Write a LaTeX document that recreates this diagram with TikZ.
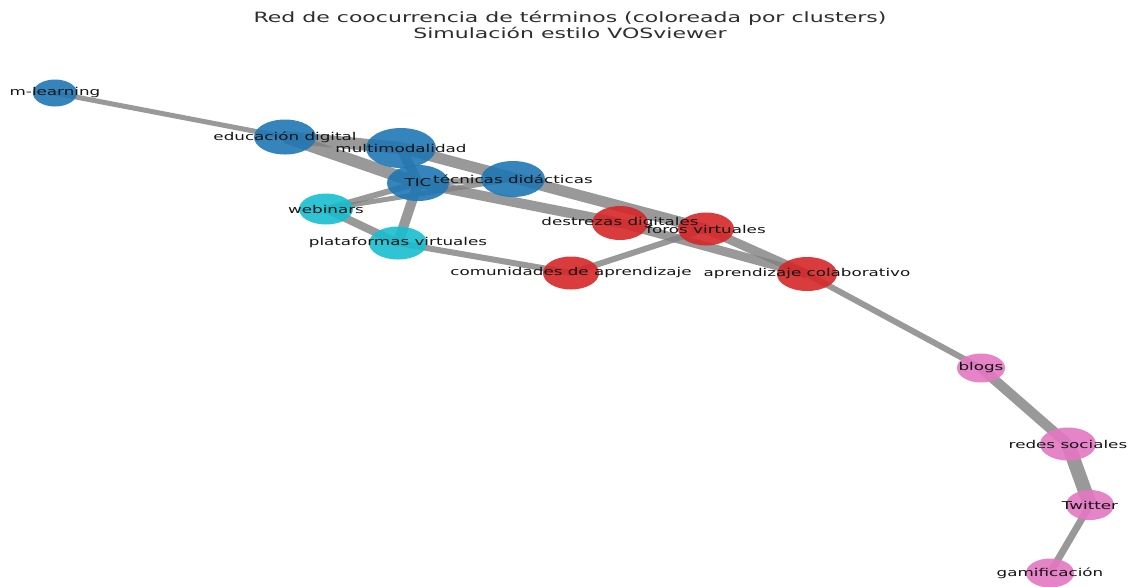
\documentclass[tikz,border=0pt]{standalone}
\usepackage{fontspec}
\usepackage{xcolor}
\usepackage{tikz}
\usetikzlibrary{shapes.geometric,backgrounds}
\newfontfamily\lblfont[FakeStretch=1.55]{DejaVu Sans}

\definecolor{clblue}{RGB}{31,119,180}
\definecolor{clcyan}{RGB}{23,190,207}
\definecolor{clred}{RGB}{214,39,40}
\definecolor{clpink}{RGB}{227,119,194}

\tikzset{
  term/.style={ellipse,inner sep=0pt,fill opacity=0.9,draw=none},
  blueterm/.style={term,fill=clblue},
  cyanterm/.style={term,fill=clcyan},
  redterm/.style={term,fill=clred},
  pinkterm/.style={term,fill=clpink},
  termlabel/.style={inner sep=0pt,text=black!92,font=\lblfont\fontsize{5.4}{6}\selectfont},
  link/.style={draw=gray,draw opacity=0.8,line width=#1},
}

\begin{document}
\begin{tikzpicture}[x=0.5pt,y=-0.5pt]
        \useasboundingbox (0,0) rectangle (1131,586);
        % title
        \node[align=center,text=black!82,font=\lblfont\fontsize{7.1}{8}\selectfont] (title) at (570,25)
            {Red de coocurrencia de términos (coloreada por clusters)\\Simulación estilo VOSviewer};
        % terms
        \node[blueterm,minimum width=22pt,minimum height=13.5pt] (ml) at (55,93) {};
        \node[blueterm,minimum width=31pt,minimum height=17.5pt] (edudig) at (285,137) {};
        \node[blueterm,minimum width=35pt,minimum height=20pt] (multi) at (401,148) {};
        \node[blueterm,minimum width=31pt,minimum height=18pt] (tic) at (418,183) {};
        \node[blueterm,minimum width=32pt,minimum height=18pt] (tecdid) at (513,179) {};
        \node[cyanterm,minimum width=27pt,minimum height=15.5pt] (webin) at (326,209) {};
        \node[cyanterm,minimum width=29pt,minimum height=16.5pt] (plat) at (398,243) {};
        \node[redterm,minimum width=28pt,minimum height=17pt] (destr) at (620,223) {};
        \node[redterm,minimum width=28pt,minimum height=16.5pt] (foros) at (706,229) {};
        \node[redterm,minimum width=28pt,minimum height=16.5pt] (comun) at (571,273) {};
        \node[redterm,minimum width=30pt,minimum height=17pt] (colab) at (807,274) {};
        \node[pinkterm,minimum width=24pt,minimum height=14.5pt] (blogs) at (981,368) {};
        \node[pinkterm,minimum width=28pt,minimum height=16.5pt] (redes) at (1068,444) {};
        \node[pinkterm,minimum width=24pt,minimum height=15pt] (twit) at (1090,505) {};
        \node[pinkterm,minimum width=24pt,minimum height=14.5pt] (gamif) at (1050,573) {};
        % co-occurrence links, behind the terms
        \begin{pgfonlayer}{background}
        \draw[link=2.5pt] (ml.center) -- (edudig.center);
        \draw[link=6pt] (edudig.center) -- (multi.center);
        \draw[link=6pt] (edudig.center) -- (tic.center);
        \draw[link=5pt] (multi.center) -- (tic.center);
        \draw[link=5.5pt] (multi.center) -- (foros.center);
        \draw[link=5pt] (tic.center) -- (destr.center);
        \draw[link=3pt] (tic.center) -- (tecdid.center);
        \draw[link=3pt] (tic.center) -- (webin.center);
        \draw[link=2.5pt] (webin.center) -- (tecdid.center);
        \draw[link=5pt] (tic.center) -- (plat.center);
        \draw[link=4pt] (webin.center) -- (plat.center);
        \draw[link=3pt] (plat.center) -- (comun.center);
        \draw[link=3pt] (comun.center) -- (foros.center);
        \draw[link=4.5pt] (foros.center) -- (colab.center);
        \draw[link=4.5pt] (destr.center) -- (colab.center);
        \draw[link=3pt] (colab.center) -- (blogs.center);
        \draw[link=5pt] (blogs.center) -- (redes.center);
        \draw[link=7pt] (redes.center) -- (twit.center);
        \draw[link=3.5pt] (twit.center) -- (gamif.center);
        \end{pgfonlayer}
        % labels on top
        \node[termlabel] (ml-l) at (ml) {m-learning};
        \node[termlabel] (edudig-l) at (edudig) {educación digital};
        \node[termlabel] (multi-l) at (multi) {multimodalidad};
        \node[termlabel] (tic-l) at (tic) {TIC};
        \node[termlabel] (tecdid-l) at (tecdid) {técnicas didácticas};
        \node[termlabel] (webin-l) at (webin) {webinars};
        \node[termlabel] (plat-l) at (plat) {plataformas virtuales};
        \node[termlabel] (destr-l) at (destr) {destrezas digitales};
        \node[termlabel] (foros-l) at (foros) {foros virtuales};
        \node[termlabel] (comun-l) at (comun) {comunidades de aprendizaje};
        \node[termlabel] (colab-l) at (colab) {aprendizaje colaborativo};
        \node[termlabel] (blogs-l) at (blogs) {blogs};
        \node[termlabel] (redes-l) at (redes) {redes sociales};
        \node[termlabel] (twit-l) at (twit) {Twitter};
        \node[termlabel] (gamif-l) at (gamif) {gamificación};
\end{tikzpicture}
\end{document}
